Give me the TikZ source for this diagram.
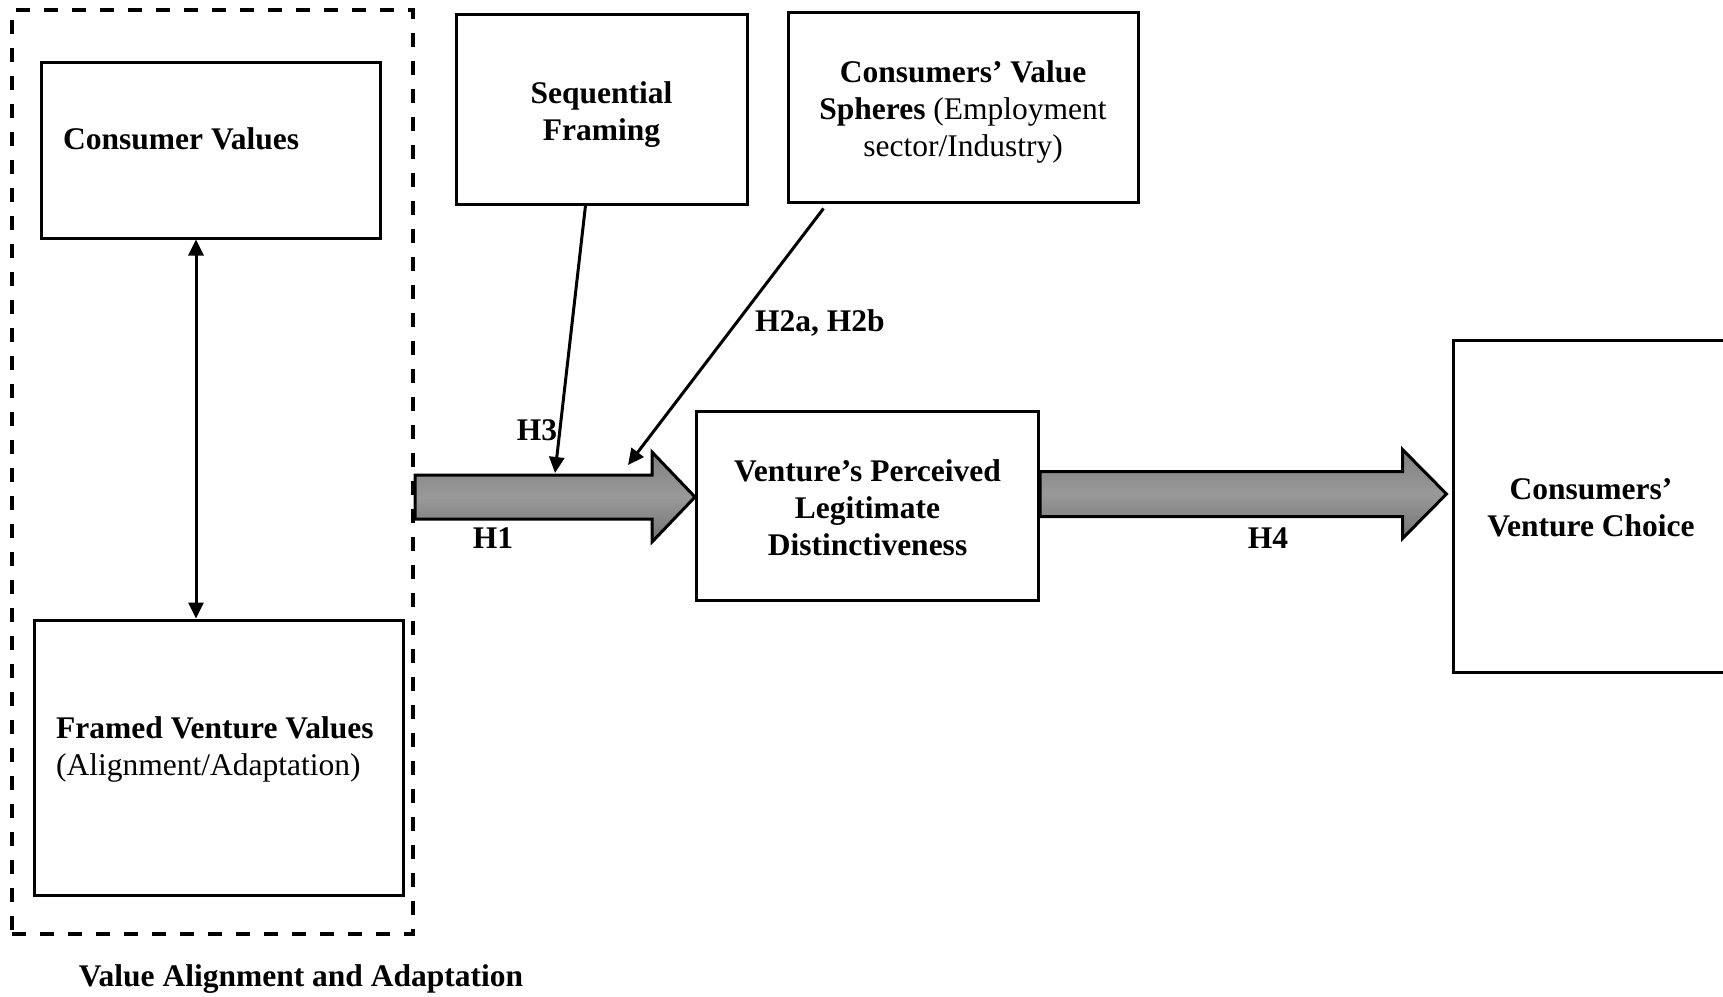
\documentclass[tikz,border=0pt]{standalone}
\usepackage{fontspec}
\setmainfont{Liberation Serif}
\usetikzlibrary{arrows.meta,calc}
\newcommand{\figfont}{\fontsize{31.5}{37}\selectfont}

\begin{document}
\begin{tikzpicture}[x=1pt,y=-1pt,
  every node/.style={font=\figfont},
  box/.style={draw=black, line width=3pt, inner sep=0pt},
  txt/.style={inner sep=0pt, align=center},
  hlabel/.style={font=\figfont\bfseries, inner sep=0pt},
  link/.style={line width=3pt, -{Triangle[length=16pt,width=15pt]}},
  twoway/.style={line width=3pt, {Triangle[length=16pt,width=15pt]}-{Triangle[length=16pt,width=15pt]}},
  blockarrow/.style={draw=black, line width=3pt, line join=miter,
    top color=black!50, bottom color=black!55, middle color=black!40},
  groupframe/.style={draw=black, line width=4pt, dash pattern=on 14pt off 14pt, inner sep=0pt}]

\path[use as bounding box, fill=white] (0,0) rectangle (1723,996);

% dashed group: value alignment and adaptation
\node[groupframe, minimum width=401pt, minimum height=924pt] (group) at (212.5,472) {};
\node[box, minimum width=339pt, minimum height=176pt] (cv) at (210.5,150) {};
\node[txt, font=\figfont\bfseries, anchor=base west] (cvtext) at (63,149) {Consumer Values};
\node[box, minimum width=369pt, minimum height=275pt] (fv) at (218.5,757.5) {};
\node[txt, anchor=west, align=left] (fvtext) at (56,749)
  {\textbf{Framed Venture Values}\\(Alignment/Adaptation)};
\node[hlabel] (grouplabel) at (301,979) {Value Alignment and Adaptation};

% moderators
\node[box, minimum width=291pt, minimum height=190pt] (sf) at (601.5,109) {};
\node[txt] (sftext) at ($(sf.center)+(0,5.5)$) {\textbf{Sequential}\\\textbf{Framing}};
\node[box, minimum width=350pt, minimum height=190pt] (cvs) at (963,107) {};
\node[txt] (cvstext) at ($(cvs.center)+(0,4.5)$)
  {\textbf{Consumers’ Value}\\\textbf{Spheres} (Employment\\sector/Industry)};

% mediator and outcome
\node[box, minimum width=342pt, minimum height=189pt] (vpl) at (867.5,505.5) {};
\node[txt] (vpltext) at ($(vpl.center)+(0,2)$)
  {\textbf{Venture’s Perceived}\\\textbf{Legitimate}\\\textbf{Distinctiveness}};
\node[box, minimum width=276pt, minimum height=332pt] (vc) at (1591,506) {};
\node[txt] (vctext) at ($(vc.center)+(0,2)$) {\textbf{Consumers’}\\\textbf{Venture Choice}};

% two-way link inside the group
\coordinate (dx) at (196,0);
\draw[twoway] (cv.south -| dx) -- (fv.north -| dx);

% block arrow H1
\coordinate (t1) at ($(vpl.west)+(0,-8.5)$);
\path[blockarrow] ($(group.east |- t1)+(0,-22)$) -- ($(t1)+(-43,-22)$) -- ($(t1)+(-43,-45)$)
  -- (t1) -- ($(t1)+(-43,45)$) -- ($(t1)+(-43,22)$) -- ($(group.east |- t1)+(0,22)$) -- cycle;

% block arrow H4
\coordinate (t2) at ($(vc.west)+(-5,-12)$);
\path[blockarrow] ($(vpl.east |- t2)+(0,-22.5)$) -- ($(t2)+(-44,-22.5)$) -- ($(t2)+(-44,-44.5)$)
  -- (t2) -- ($(t2)+(-44,44.5)$) -- ($(t2)+(-44,22.5)$) -- ($(vpl.east |- t2)+(0,22.5)$) -- cycle;

% moderating links
\coordinate (h3end) at (555,473);
\coordinate (h2end) at (628,465);
\draw[link] ($(sf.south west)+(131,0)$) -- (h3end);
\draw[link] ($(cvs.south west)+(37,5)$) -- (h2end);

% hypothesis labels
\node[hlabel] (h1) at (493,538) {H1};
\node[hlabel] (h3) at (537,430) {H3};
\node[hlabel, anchor=west] (h2) at (755,323) {H2a, H2b};
\node[hlabel] (h4) at (1268,538) {H4};
\end{tikzpicture}
\end{document}
